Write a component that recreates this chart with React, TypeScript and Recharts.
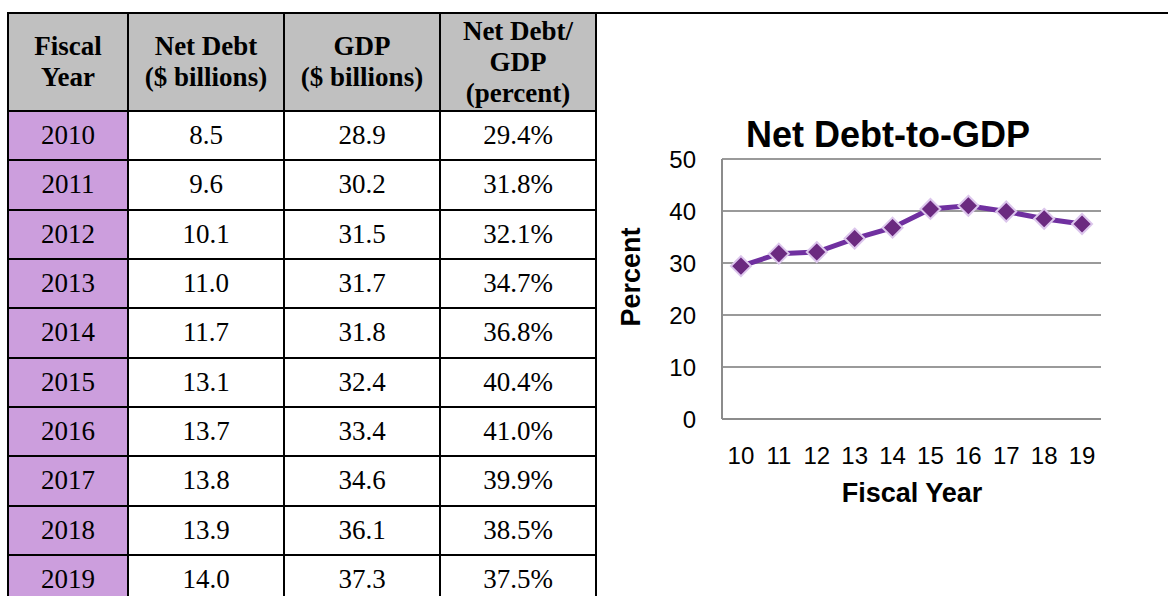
import { CartesianGrid, Line, LineChart, XAxis, YAxis } from "recharts";

const years = ["2010", "2011", "2012", "2013", "2014", "2015", "2016", "2017", "2018", "2019"];
const netDebt = ["8.5", "9.6", "10.1", "11.0", "11.7", "13.1", "13.7", "13.8", "13.9", "14.0"];
const gdp = ["28.9", "30.2", "31.5", "31.7", "31.8", "32.4", "33.4", "34.6", "36.1", "37.3"];
const ratio = [29.4, 31.8, 32.1, 34.7, 36.8, 40.4, 41.0, 39.9, 38.5, 37.5];
const yearTicks = ["10", "11", "12", "13", "14", "15", "16", "17", "18", "19"];
const percentTicks = [0, 10, 20, 30, 40, 50];

const data = yearTicks.map((year, i) => ({ year, ratio: ratio[i] }));

const SERIF = '"Liberation Serif", "Times New Roman", serif';
const SANS = '"Liberation Sans", Arial, sans-serif';

function Diamond(props: any) {
  const { cx, cy } = props;
  if (cx == null || cy == null) return null;
  const r = 10;
  return (
    <polygon
      points={`${cx},${cy - r} ${cx + r},${cy} ${cx},${cy + r} ${cx - r},${cy}`}
      fill="#6B2A80"
      stroke="#DCC6EC"
      strokeWidth={2}
    />
  );
}

function DebtTable() {
  const headers = [
    ["Fiscal", "Year"],
    ["Net Debt", "($ billions)"],
    ["GDP", "($ billions)"],
    ["Net Debt/", "GDP", "(percent)"],
  ];
  const cell = {
    display: "flex",
    alignItems: "center",
    justifyContent: "center",
    textAlign: "center" as const,
  };
  return (
    <div
      style={{
        position: "absolute",
        left: 7,
        top: 12,
        width: 590,
        display: "grid",
        gridTemplateColumns: "118px 154px 154px 154px",
        gridTemplateRows: `96px repeat(${years.length}, 47.33px)`,
        gap: 2,
        padding: 2,
        background: "#000",
        boxSizing: "border-box",
        fontFamily: SERIF,
        fontSize: 27,
        color: "#000",
      }}
    >
      {headers.map((lines, i) => (
        <div
          key={i}
          style={{ ...cell, background: "#C0C0C0", fontWeight: "bold", lineHeight: "31px", flexDirection: "column" }}
        >
          {lines.map((l) => (
            <div key={l}>{l}</div>
          ))}
        </div>
      ))}
      {years.map((y, i) => [
        <div key={y + "a"} style={{ ...cell, background: "#CC9EDD" }}>{y}</div>,
        <div key={y + "b"} style={{ ...cell, background: "#fff" }}>{netDebt[i]}</div>,
        <div key={y + "c"} style={{ ...cell, background: "#fff" }}>{gdp[i]}</div>,
        <div key={y + "d"} style={{ ...cell, background: "#fff" }}>{ratio[i].toFixed(1)}%</div>,
      ])}
    </div>
  );
}

export default function App() {
  return (
    <div
      style={{
        position: "absolute",
        left: 0,
        top: 0,
        width: 1168,
        height: 596,
        overflow: "hidden",
        background: "#fff",
      }}
    >
      <div style={{ position: "absolute", left: 7, top: 12, width: 1161, height: 2, background: "#000" }} />
      <DebtTable />
      <div style={{ position: "absolute", left: 600, top: 100 }}>
        <LineChart width={568} height={496} data={data} margin={{ top: 59, right: 67, bottom: 147, left: 62 }}>
          <CartesianGrid vertical={false} stroke="#9A9A9A" strokeWidth={2} />
          <XAxis
            dataKey="year"
            scale="band"
            height={30}
            axisLine={{ stroke: "#8C8C8C", strokeWidth: 2 }}
            tickLine={false}
            tickSize={0}
            tickMargin={28}
            interval={0}
            fontSize={24}
            tick={{ fontSize: 24, fill: "#000", fontFamily: SANS }}
          />
          <YAxis
            width={60}
            domain={[0, 50]}
            ticks={percentTicks}
            axisLine={{ stroke: "#8C8C8C", strokeWidth: 2 }}
            tickLine={false}
            tickSize={0}
            tickMargin={26}
            fontSize={24}
            tick={{ fontSize: 24, fill: "#000", fontFamily: SANS }}
          />
          <Line
            dataKey="ratio"
            stroke="#7030A0"
            strokeWidth={5}
            dot={<Diamond />}
            activeDot={false}
            isAnimationActive={false}
          />
        </LineChart>
      </div>
      <svg
        width={1168}
        height={596}
        style={{ position: "absolute", left: 0, top: 0, pointerEvents: "none" }}
      >
        <text x={888} y={147} textAnchor="middle" fontFamily={SANS} fontWeight="bold" fontSize={36} fill="#000">
          Net Debt-to-GDP
        </text>
        <text x={912} y={502} textAnchor="middle" fontFamily={SANS} fontWeight="bold" fontSize={27} fill="#000">
          Fiscal Year
        </text>
        <text
          transform="translate(640,277) rotate(-90)"
          textAnchor="middle"
          fontFamily={SANS}
          fontWeight="bold"
          fontSize={27}
          fill="#000"
        >
          Percent
        </text>
      </svg>
    </div>
  );
}
